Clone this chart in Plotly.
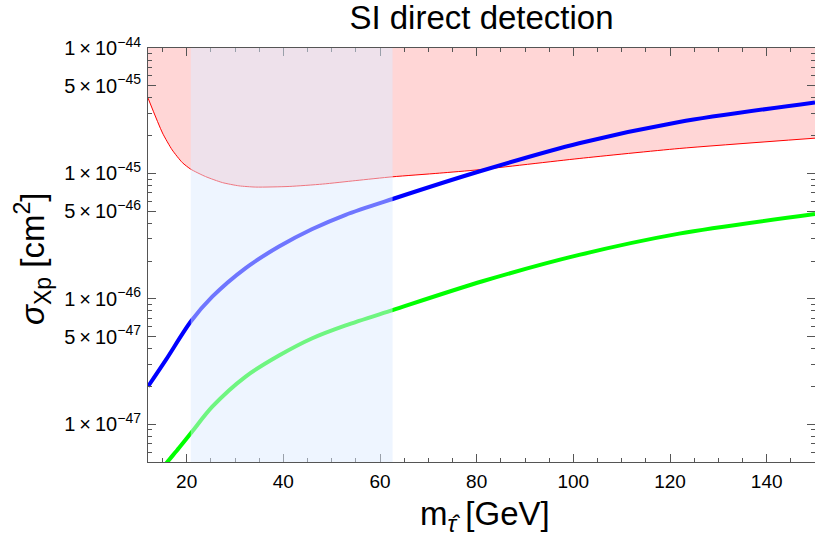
import plotly.graph_objects as go

# ---- data ----
red_x = [12, 15, 17, 19.1, 20.85, 23.9, 27.4, 30.8, 34.3, 41.2, 48.1, 55, 62.6, 72.3, 80.5, 101.2, 121.9, 150]
red_y = [3.99e-45, 2.10e-45, 1.54e-45, 1.22e-45, 1.08e-45, 9.44e-46, 8.45e-46, 7.96e-46, 7.78e-46,
         7.87e-46, 8.22e-46, 8.77e-46, 9.40e-46, 1.005e-45, 1.07e-45, 1.315e-45, 1.58e-45, 1.91e-45]

blue_x = [12, 15.7, 20.85, 25.3, 32.2, 39.1, 46.0, 52.9, 62.6, 80.5, 101.2, 121.9, 150]
blue_y = [2.0e-47, 3.26e-47, 6.59e-47, 1.04e-46, 1.76e-46, 2.61e-46, 3.60e-46, 4.68e-46,
          6.25e-46, 1.035e-45, 1.74e-45, 2.57e-45, 3.68e-45]

green_x = [14, 16, 18.4, 20.85, 25.3, 32.2, 39.1, 46.0, 52.9, 62.6, 81.2, 101.2, 121.9, 150]
green_y = [4.0e-48, 5.0e-48, 6.46e-48, 8.47e-48, 1.38e-47, 2.40e-47, 3.53e-47, 4.85e-47,
           6.14e-47, 8.13e-47, 1.38e-46, 2.24e-46, 3.31e-46, 4.74e-46]

band = [20.85, 62.6]
y_top = 1e-44
x_range = [12, 150]

x_ticks = [20, 40, 60, 80, 100, 120, 140]
x_minor = [15, 25, 30, 35, 45, 50, 55, 65, 70, 75, 85, 90, 95, 105, 110, 115, 125, 130, 135, 145]
y_ticks = [1e-44, 5e-45, 1e-45, 5e-46, 1e-46, 5e-47, 1e-47]
y_ticktext = ["1\u2009×\u200910<sup>−44</sup>", "5\u2009×\u200910<sup>−45</sup>",
              "1\u2009×\u200910<sup>−45</sup>", "5\u2009×\u200910<sup>−46</sup>",
              "1\u2009×\u200910<sup>−46</sup>", "5\u2009×\u200910<sup>−47</sup>",
              "1\u2009×\u200910<sup>−47</sup>"]
y_minor = [k * 10.0 ** e for e in (-48, -47, -46, -45) for k in (2, 3, 4, 6, 7, 8, 9)]

FONT = "Liberation Sans, Arial, sans-serif"
W, H = 815, 541
L, R, T, B = 148, 0, 48, 79
pw, ph = W - L - R, H - T - B

fig = go.Figure()
# top boundary for the excluded region
fig.add_trace(go.Scatter(x=red_x, y=[y_top] * len(red_x), mode="lines",
                         line=dict(width=0, color="rgba(0,0,0,0)"), showlegend=False, hoverinfo="skip"))
fig.add_trace(go.Scatter(x=red_x, y=red_y, mode="lines", fill="tonexty",
                         fillcolor="rgba(255,0,0,0.16)",
                         line=dict(color="#ff0000", width=1, shape="spline", smoothing=0.6),
                         showlegend=False))
fig.add_trace(go.Scatter(x=blue_x, y=blue_y, mode="lines",
                         line=dict(color="#0000ff", width=4, shape="spline", smoothing=0.8),
                         showlegend=False))
fig.add_trace(go.Scatter(x=green_x, y=green_y, mode="lines",
                         line=dict(color="#00ff00", width=4, shape="spline", smoothing=0.8),
                         showlegend=False))

fig.add_shape(type="rect", xref="x", yref="paper", x0=band[0], x1=band[1], y0=0, y1=1,
              fillcolor="rgba(221,235,255,0.5)", line=dict(width=0), layer="above")

axis_common = dict(showline=True, linecolor="#555555", linewidth=1, mirror="ticks",
                   ticks="inside", ticklen=8, tickwidth=1, tickcolor="#555555",
                   showgrid=False, zeroline=False, automargin=False)

fig.update_xaxes(range=x_range, tickmode="array", tickvals=x_ticks,
                 tickfont=dict(family=FONT, size=19, color="#000"),
                 minor=dict(tickmode="array", tickvals=x_minor, ticks="inside", ticklen=4,
                            tickcolor="#555555", tickwidth=1),
                 ticklabelstandoff=2, **axis_common)
fig.update_yaxes(type="log", range=[-47.301, -44], tickmode="array", tickvals=y_ticks,
                 ticktext=y_ticktext, tickfont=dict(family=FONT, size=20, color="#000"),
                 minor=dict(tickmode="array", tickvals=y_minor, ticks="inside", ticklen=4,
                            tickcolor="#555555", tickwidth=1),
                 ticklabelstandoff=2, **axis_common)

def px_to_paper(px, py):
    return (px - L) / pw, (H - B - py) / ph

ax_x, ax_y = px_to_paper(485, 516)
ay_x, ay_y = px_to_paper(32, 259)
fig.add_annotation(text="m<sub><i>τ̂</i></sub> [GeV]", x=ax_x, y=ax_y, xref="paper", yref="paper",
                   showarrow=False, font=dict(family=FONT, size=33, color="#000"),
                   xanchor="center", yanchor="middle")
fig.add_annotation(text="<i>σ</i><sub>Xp</sub> [cm<sup>2</sup>]", x=ay_x, y=ay_y,
                   xref="paper", yref="paper", textangle=-90,
                   showarrow=False, font=dict(family=FONT, size=33, color="#000"),
                   xanchor="center", yanchor="middle")

fig.update_layout(
    width=W, height=H, margin=dict(l=L, r=R, t=T, b=B, autoexpand=False),
    paper_bgcolor="white", plot_bgcolor="white",
    title=dict(text="SI direct detection", x=0.5, xref="paper", xanchor="center",
               y=1 - 17 / H, yref="container", yanchor="middle",
               font=dict(family=FONT, size=33, color="#000")),
)

fig.write_html("out.html", config={"displayModeBar": False},
               post_script="document.body.style.margin='0';document.body.style.overflow='hidden';")
